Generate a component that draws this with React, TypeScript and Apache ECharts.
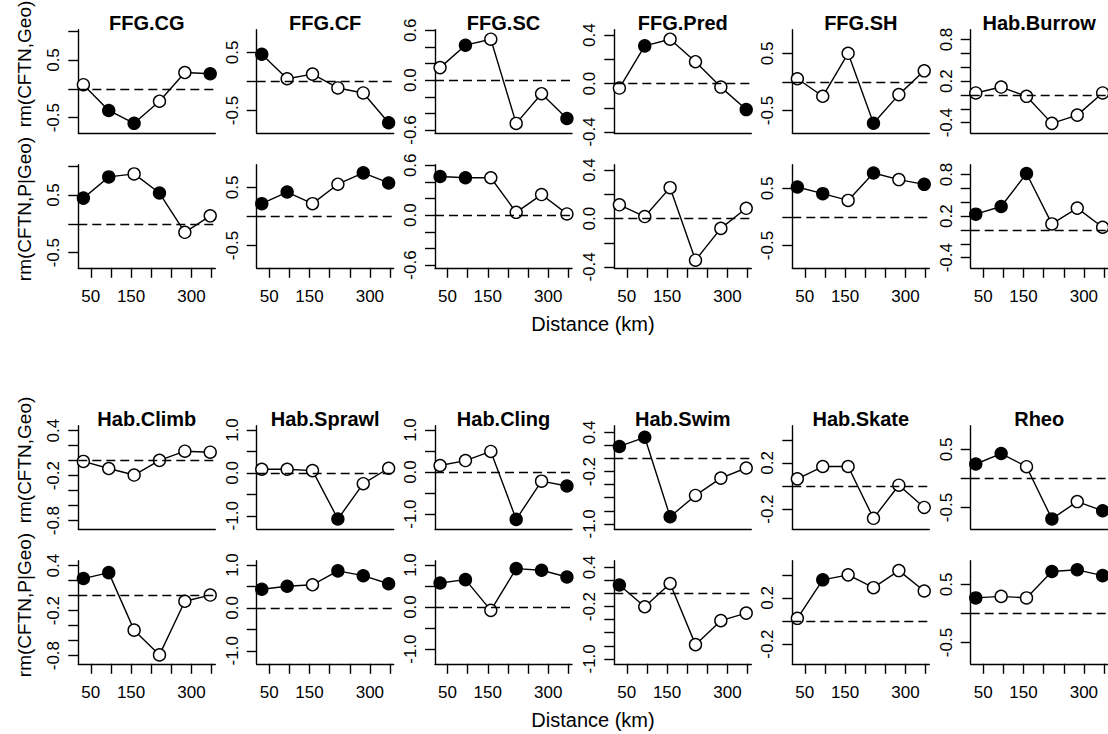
import React, { useEffect, useRef } from "react";
import * as echarts from "echarts";

// ---------- data ----------
const distances = [31.5, 94.5, 157.5, 220.5, 283.5, 346.5];
const xTicks = [50, 100, 150, 200, 250, 300, 350];
const xLabels = [50, 150, 300];
const xRange = [18.9, 359.1];

const block1Names = ["FFG.CG", "FFG.CF", "FFG.SC", "FFG.Pred", "FFG.SH", "Hab.Burrow"];
const block2Names = ["Hab.Climb", "Hab.Sprawl", "Hab.Cling", "Hab.Swim", "Hab.Skate", "Rheo"];
const rowLabels = ["rm(CFTN,Geo)", "rm(CFTN,P|Geo)"];
const xTitle = "Distance (km)";

// rm(CFTN,Geo) — block 1
const cgGeo = [0.072, -0.374, -0.597, -0.214, 0.283, 0.261];
const cfGeo = [0.467, 0.046, 0.126, -0.112, -0.198, -0.71];
const scGeo = [0.151, 0.421, 0.493, -0.52, -0.163, -0.461];
const predGeo = [-0.037, 0.312, 0.367, 0.181, -0.029, -0.215];
const shGeo = [0.055, -0.251, 0.501, -0.724, -0.222, 0.194];
const burrowGeo = [0.029, 0.114, -0.02, -0.41, -0.291, 0.029];
// significance (1 = filled)
const cgGeoSig = [0, 1, 1, 0, 0, 1];
const cfGeoSig = [1, 0, 0, 0, 0, 1];
const scGeoSig = [0, 1, 0, 0, 0, 1];
const predGeoSig = [0, 1, 0, 0, 0, 1];
const shGeoSig = [0, 0, 0, 1, 0, 0];
const burrowGeoSig = [0, 0, 0, 0, 0, 0];

// rm(CFTN,P|Geo) — block 1
const cgPart = [0.446, 0.813, 0.865, 0.534, -0.146, 0.139];
const cfPart = [0.22, 0.42, 0.22, 0.554, 0.749, 0.576];
const scPart = [0.466, 0.45, 0.45, 0.034, 0.248, 0.015];
const predPart = [0.114, 0.017, 0.256, -0.344, -0.081, 0.085];
const shPart = [0.523, 0.407, 0.289, 0.769, 0.653, 0.57];
const burrowPart = [0.228, 0.339, 0.814, 0.087, 0.315, 0.039];
const cgPartSig = [1, 1, 0, 1, 0, 0];
const cfPartSig = [1, 1, 0, 0, 1, 1];
const scPartSig = [1, 1, 0, 0, 0, 0];
const predPartSig = [0, 0, 0, 0, 0, 0];
const shPartSig = [1, 1, 0, 1, 0, 1];
const burrowPartSig = [1, 1, 1, 0, 0, 0];

// rm(CFTN,Geo) — block 2
const climbGeo = [-0.01, -0.105, -0.192, 0.004, 0.126, 0.113];
const sprawlGeo = [0.085, 0.085, 0.053, -1.076, -0.252, 0.108];
const clingGeo = [0.156, 0.273, 0.49, -1.126, -0.217, -0.333];
const swimGeo = [0.184, 0.324, -0.89, -0.565, -0.3, -0.145];
const skateGeo = [0.062, 0.169, 0.169, -0.28, 0.007, -0.186];
const rheoGeo = [0.248, 0.428, 0.202, -0.696, -0.398, -0.556];
const climbGeoSig = [0, 0, 0, 0, 0, 0];
const sprawlGeoSig = [0, 0, 0, 1, 0, 0];
const clingGeoSig = [0, 0, 0, 1, 0, 1];
const swimGeoSig = [1, 1, 1, 0, 0, 0];
const skateGeoSig = [0, 0, 0, 0, 0, 0];
const rheoGeoSig = [1, 1, 0, 1, 0, 1];

// rm(CFTN,P|Geo) — block 2
const climbPart = [0.228, 0.307, -0.46, -0.79, -0.075, 0.008];
const sprawlPart = [0.436, 0.503, 0.539, 0.863, 0.751, 0.562];
const clingPart = [0.571, 0.652, -0.079, 0.914, 0.874, 0.714];
const swimPart = [0.129, -0.203, 0.153, -0.782, -0.415, -0.3];
const skatePart = [0.023, 0.357, 0.4, 0.289, 0.437, 0.26];
const rheoPart = [0.267, 0.293, 0.267, 0.722, 0.75, 0.65];
const climbPartSig = [1, 1, 0, 0, 0, 0];
const sprawlPartSig = [1, 1, 0, 1, 1, 1];
const clingPartSig = [1, 1, 0, 1, 1, 1];
const swimPartSig = [1, 0, 0, 0, 0, 0];
const skatePartSig = [0, 1, 0, 0, 0, 0];
const rheoPartSig = [1, 0, 0, 1, 1, 1];

// y-axis limits per column
const block1YMin = [-0.761, -0.883, -0.633, -0.407, -0.89, -0.546];
const block1YMax = [1.023, 0.888, 0.606, 0.445, 0.912, 0.94];
const block2YMin = [-0.909, -1.304, -1.35, -1.075, -0.371, -0.866];
const block2YMax = [0.465, 1.098, 1.1, 0.5, 0.522, 0.905];

// y ticks and labelled ticks per column
const block1YTicks = [
  [-0.5, 0, 0.5, 1.0],
  [-0.5, 0, 0.5],
  [-0.6, -0.4, -0.2, 0, 0.2, 0.4, 0.6],
  [-0.4, -0.2, 0, 0.2, 0.4],
  [-0.5, 0, 0.5],
  [-0.4, -0.2, 0, 0.2, 0.4, 0.6, 0.8],
];
const block1YLabels = [
  [-0.5, 0.5],
  [-0.5, 0.5],
  [-0.6, 0, 0.6],
  [-0.4, 0, 0.4],
  [-0.5, 0.5],
  [-0.4, 0.2, 0.8],
];
const block2YTicks = [
  [-0.8, -0.6, -0.4, -0.2, 0, 0.2, 0.4],
  [-1.0, -0.5, 0, 0.5, 1.0],
  [-1.0, -0.5, 0, 0.5, 1.0],
  [-1.0, -0.8, -0.6, -0.4, -0.2, 0, 0.2, 0.4],
  [-0.2, 0, 0.2, 0.4],
  [-0.5, 0, 0.5],
];
const block2YLabels = [
  [-0.8, -0.2, 0.4],
  [-1.0, 0, 1.0],
  [-1.0, 0, 1.0],
  [-1.0, -0.2, 0.4],
  [-0.2, 0.2],
  [-0.5, 0.5],
];

// ---------- layout ----------
const FONT = "'Liberation Sans', Arial, Helvetica, sans-serif";
const colLeft = [78.3, 256.7, 435, 614.3, 792.3, 970.7];
const plotW = 137;
const plotH = 103;
const rowTops = [29.8, 164.8, 425.8, 560.8];
const titleY = [22.5, 418.5];
const xTitleY = [324, 720];
const yLabelY = [64, 209, 460, 605];

const block1Geo = [cgGeo, cfGeo, scGeo, predGeo, shGeo, burrowGeo];
const block1GeoSig = [cgGeoSig, cfGeoSig, scGeoSig, predGeoSig, shGeoSig, burrowGeoSig];
const block1Part = [cgPart, cfPart, scPart, predPart, shPart, burrowPart];
const block1PartSig = [cgPartSig, cfPartSig, scPartSig, predPartSig, shPartSig, burrowPartSig];
const block2Geo = [climbGeo, sprawlGeo, clingGeo, swimGeo, skateGeo, rheoGeo];
const block2GeoSig = [climbGeoSig, sprawlGeoSig, clingGeoSig, swimGeoSig, skateGeoSig, rheoGeoSig];
const block2Part = [climbPart, sprawlPart, clingPart, swimPart, skatePart, rheoPart];
const block2PartSig = [climbPartSig, sprawlPartSig, clingPartSig, swimPartSig, skatePartSig, rheoPartSig];

function buildOption() {
  const grids: any[] = [];
  const xAxes: any[] = [];
  const yAxes: any[] = [];
  const series: any[] = [];
  const graphics: any[] = [];

  const rows = [
    { vals: block1Geo, sig: block1GeoSig, yMin: block1YMin, yMax: block1YMax, ticks: block1YTicks, labels: block1YLabels, bottom: false },
    { vals: block1Part, sig: block1PartSig, yMin: block1YMin, yMax: block1YMax, ticks: block1YTicks, labels: block1YLabels, bottom: true },
    { vals: block2Geo, sig: block2GeoSig, yMin: block2YMin, yMax: block2YMax, ticks: block2YTicks, labels: block2YLabels, bottom: false },
    { vals: block2Part, sig: block2PartSig, yMin: block2YMin, yMax: block2YMax, ticks: block2YTicks, labels: block2YLabels, bottom: true },
  ];

  rows.forEach((row, r) => {
    for (let c = 0; c < 6; c++) {
      const idx = grids.length;
      grids.push({ left: colLeft[c], top: rowTops[r], width: plotW, height: plotH, containLabel: false });
      xAxes.push({
        type: "value",
        gridIndex: idx,
        min: xRange[0],
        max: xRange[1],
        axisLine: { show: true, onZero: false, lineStyle: { color: "#000", width: 1.4 } },
        axisTick: { show: row.bottom, customValues: xTicks, length: 10, lineStyle: { color: "#000", width: 1.4 } },
        axisLabel: {
          show: row.bottom,
          customValues: xLabels,
          color: "#000",
          fontSize: 17,
          fontFamily: FONT,
          margin: 20,
        },
        splitLine: { show: false },
      });
      yAxes.push({
        type: "value",
        gridIndex: idx,
        min: row.yMin[c],
        max: row.yMax[c],
        axisLine: { show: true, onZero: false, lineStyle: { color: "#000", width: 1.4 } },
        axisTick: { show: true, customValues: row.ticks[c], length: 10, lineStyle: { color: "#000", width: 1.4 } },
        axisLabel: {
          show: true,
          customValues: row.labels[c],
          rotate: 90,
          color: "#000",
          fontSize: 17,
          fontFamily: FONT,
          margin: 16,
          formatter: (v: number) => v.toFixed(1),
        },
        splitLine: { show: false },
      });
      const vals = row.vals[c];
      const sig = row.sig[c];
      series.push({
        type: "line",
        xAxisIndex: idx,
        yAxisIndex: idx,
        symbol: "circle",
        symbolSize: 12,
        lineStyle: { color: "#000", width: 1.4 },
        itemStyle: { color: "#000", borderColor: "#000", borderWidth: 1.4 },
        emphasis: { disabled: true },
        data: distances.map((d, k) => ({
          value: [d, vals[k]],
          itemStyle: sig[k]
            ? { color: "#000", borderColor: "#000", borderWidth: 1.4 }
            : { color: "#fff", borderColor: "#000", borderWidth: 1.4 },
        })),
        markLine: {
          silent: true,
          symbol: ["none", "none"],
          label: { show: false },
          lineStyle: { type: [9, 5], color: "#000", width: 1.4 },
          data: [{ yAxis: 0 }],
        },
        z: 3,
      });
    }
  });

  // panel titles
  const allNames = [block1Names, block2Names];
  allNames.forEach((names, b) => {
    names.forEach((name, c) => {
      graphics.push({
        type: "text",
        x: colLeft[c] + plotW / 2,
        y: titleY[b],
        style: {
          text: name,
          fill: "#000",
          fontSize: 20,
          fontWeight: "bold",
          fontFamily: FONT,
          align: "center",
          verticalAlign: "middle",
          textAlign: "center",
          textVerticalAlign: "middle",
        },
      });
    });
    graphics.push({
      type: "text",
      x: colLeft[0] + (colLeft[5] + plotW - colLeft[0]) / 2,
      y: xTitleY[b],
      style: {
        text: xTitle,
        fill: "#000",
        fontSize: 20,
        fontFamily: FONT,
        align: "center",
        verticalAlign: "middle",
        textAlign: "center",
        textVerticalAlign: "middle",
      },
    });
  });
  // row labels
  [0, 1, 2, 3].forEach((r) => {
    graphics.push({
      type: "text",
      x: 24,
      y: yLabelY[r],
      rotation: Math.PI / 2,
      style: {
        text: rowLabels[r % 2],
        fill: "#000",
        fontSize: 19,
        fontFamily: FONT,
        align: "center",
        verticalAlign: "middle",
        textAlign: "center",
        textVerticalAlign: "middle",
      },
    });
  });

  return {
    animation: false,
    backgroundColor: "#fff",
    grid: grids,
    xAxis: xAxes,
    yAxis: yAxes,
    series,
    graphic: graphics,
  };
}

export default function App() {
  const ref = useRef<HTMLDivElement>(null);
  useEffect(() => {
    if (!ref.current) return;
    const chart = echarts.init(ref.current, undefined, { renderer: "svg" });
    chart.setOption(buildOption() as any);
    return () => chart.dispose();
  }, []);
  return (
    <div
      ref={ref}
      style={{ position: "absolute", left: 0, top: 0, width: 1108, height: 734, background: "#fff" }}
    />
  );
}
